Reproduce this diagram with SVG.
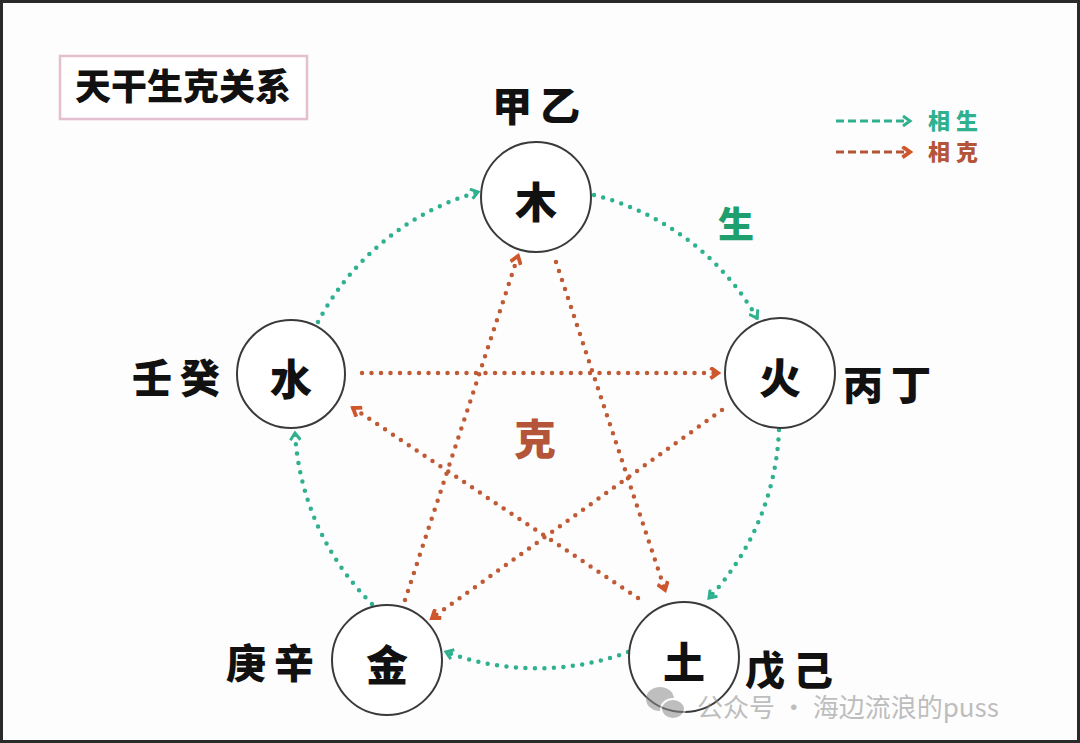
<svg xmlns="http://www.w3.org/2000/svg" width="1080" height="743" viewBox="0 0 1080 743">
<style>
.node circle{fill:#fff;stroke:#3a3a3a;stroke-width:2}
.node text{font-family:"Noto Sans CJK SC","Noto Sans",sans-serif;font-weight:900;font-size:42px;fill:#111;text-anchor:middle;dominant-baseline:central}
.stem{font-family:"Noto Sans CJK SC",sans-serif;font-weight:900;font-size:40px;fill:#111;letter-spacing:8px}
.sheng{fill:none;stroke:#2fb08f;stroke-width:4.5;stroke-linecap:round;stroke-dasharray:0 9.5}
.ke{fill:none;stroke:#c05a35;stroke-width:4.5;stroke-linecap:round;stroke-dasharray:0 9.5}
</style>
<defs>
<marker id="ag" viewBox="0 0 12 12" refX="9" refY="6" markerWidth="12" markerHeight="12" markerUnits="userSpaceOnUse" orient="auto"><path d="M2,1 L9,6 L2,11" fill="none" stroke="#2fb08f" stroke-width="3"/></marker>
<marker id="ar" viewBox="0 0 12 12" refX="9" refY="6" markerWidth="13" markerHeight="13" markerUnits="userSpaceOnUse" orient="auto"><path d="M2,1 L9,6 L2,11" fill="none" stroke="#d0562c" stroke-width="3.5"/></marker>
</defs>
<rect x="0" y="0" width="1080" height="743" fill="#fdfdfd"/>
<rect x="1.5" y="1.5" width="1077" height="740" fill="none" stroke="#2a2a2a" stroke-width="3"/>

<g id="title">
<rect x="60" y="56" width="247" height="63" fill="#fff" stroke="#e3bfd0" stroke-width="2.5"/>
<text x="183" y="100" text-anchor="middle" font-family="Noto Sans CJK SC,sans-serif" font-weight="900" font-size="36" fill="#111">天干生克关系</text>
</g>

<g id="legend">
<line x1="836" y1="121" x2="910" y2="121" stroke="#2fb08f" stroke-width="3" stroke-dasharray="8 4" marker-end="url(#ag)"/>
<text x="928" y="129" font-family="Noto Sans CJK SC,sans-serif" font-weight="900" font-size="22" fill="#2fb08f" letter-spacing="6">相生</text>
<line x1="836" y1="152" x2="910" y2="152" stroke="#b4553a" stroke-width="3" stroke-dasharray="8 4" marker-end="url(#ar)"/>
<text x="928" y="160" font-family="Noto Sans CJK SC,sans-serif" font-weight="900" font-size="22" fill="#b4553a" letter-spacing="6">相克</text>
</g>

<g id="connectors">
<path class="sheng" d="M594,195 A262,262 0 0 1 757,318" marker-end="url(#ag)"/>
<path class="sheng" d="M779,430 A262,262 0 0 1 709,598" marker-end="url(#ag)"/>
<path class="sheng" d="M628,652 A262,262 0 0 1 446,652" marker-end="url(#ag)"/>
<path class="sheng" d="M372,604 A262,262 0 0 1 295,433" marker-end="url(#ag)"/>
<path class="sheng" d="M318,322 A262,262 0 0 1 478,192" marker-end="url(#ag)"/>
<line class="ke" x1="556" y1="262" x2="665" y2="590" marker-end="url(#ar)"/>
<line class="ke" x1="638" y1="598" x2="353" y2="408" marker-end="url(#ar)"/>
<line class="ke" x1="362" y1="373" x2="718" y2="373" marker-end="url(#ar)"/>
<line class="ke" x1="722" y1="410" x2="432" y2="618" marker-end="url(#ar)"/>
<line class="ke" x1="405" y1="600" x2="518" y2="256" marker-end="url(#ar)"/>
</g>

<g id="node-wood" class="node"><circle cx="536" cy="197" r="55"/><text x="536" y="199">木</text></g>
<g id="node-fire" class="node"><circle cx="780" cy="373" r="55"/><text x="780" y="375">火</text></g>
<g id="node-earth" class="node"><circle cx="684" cy="657" r="55"/><text x="684" y="659">土</text></g>
<g id="node-metal" class="node"><circle cx="387" cy="660" r="55"/><text x="387" y="662">金</text></g>
<g id="node-water" class="node"><circle cx="291" cy="374" r="54"/><text x="291" y="376">水</text></g>

<g id="stems">
<text class="stem" x="492" y="121">甲乙</text>
<text class="stem" x="132" y="393">壬癸</text>
<text class="stem" x="843" y="400">丙丁</text>
<text class="stem" x="226" y="678">庚辛</text>
<text class="stem" x="745" y="685">戊己</text>
</g>

<text x="736" y="238" text-anchor="middle" font-family="Noto Sans CJK SC,sans-serif" font-weight="900" font-size="36" fill="#1f9e6e">生</text>
<text x="535" y="455" text-anchor="middle" font-family="Noto Sans CJK SC,sans-serif" font-weight="900" font-size="42" fill="#b4553a">克</text>

<g id="watermark" opacity="0.55">
<ellipse cx="660" cy="699" rx="14" ry="12" fill="#8a8a8a"/>
<ellipse cx="673" cy="709" rx="12" ry="10" fill="#8a8a8a" stroke="#fff" stroke-width="2"/>
<text x="697" y="717" font-family="Noto Sans CJK SC,sans-serif" font-size="26" fill="#8a8a8a">公众号 · 海边流浪的puss</text>
</g>
</svg>
